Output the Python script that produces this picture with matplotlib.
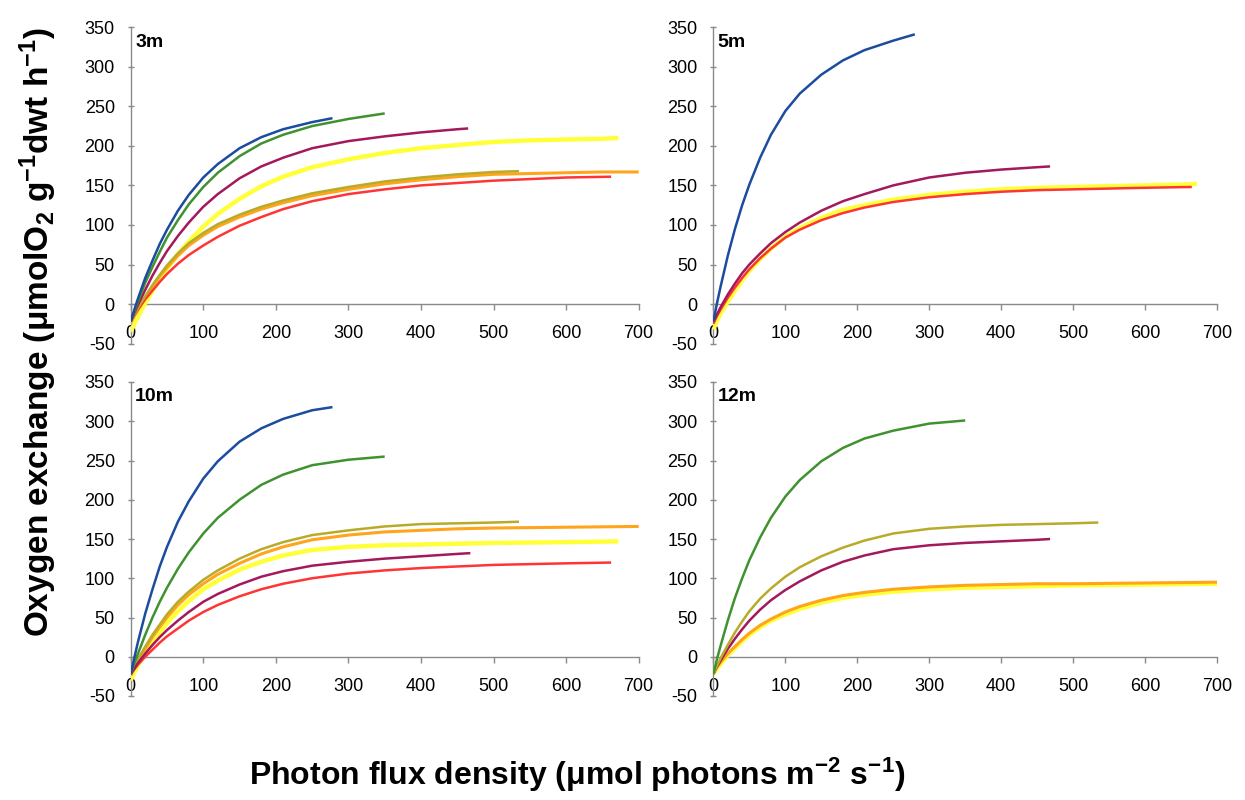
import matplotlib
matplotlib.use("Agg")
import matplotlib.pyplot as plt

plt.rcParams['font.family'] = ['Liberation Sans', 'DejaVu Sans']
plt.rcParams['mathtext.fontset'] = 'custom'
plt.rcParams['mathtext.rm'] = 'Liberation Sans'
plt.rcParams['mathtext.bf'] = 'Liberation Sans:bold'
plt.rcParams['mathtext.it'] = 'Liberation Sans:italic'

# ---------------- data ----------------
# 3 m
x_3m_blue = [0, 5, 10, 20, 30, 40, 50, 65, 80, 100, 120, 150, 180, 210, 250, 278]
y_3m_blue = [-22, -7, 7, 33, 55, 76, 94, 118, 138, 160, 177, 197, 211, 221, 230, 235]
x_3m_green = [0, 5, 10, 20, 30, 40, 50, 65, 80, 100, 120, 150, 180, 210, 250, 300, 350]
y_3m_green = [-22, -9, 3, 27, 47, 66, 84, 106, 126, 148, 166, 187, 203, 214, 225, 234, 241]
x_3m_purple = [0, 5, 10, 20, 30, 40, 50, 65, 80, 100, 120, 150, 180, 210, 250, 300, 350, 400, 450, 465]
y_3m_purple = [-22, -11, -1, 18, 36, 52, 67, 86, 103, 123, 139, 159, 174, 185, 197, 206, 212, 217, 221, 222]
x_3m_yellow = [0, 5, 10, 20, 30, 40, 50, 65, 80, 100, 120, 150, 180, 210, 250, 300, 350, 400, 450, 500, 550, 600, 650, 672]
y_3m_yellow = [-35, -25, -16, 1, 17, 31, 45, 63, 79, 98, 114, 133, 149, 161, 173, 183, 191, 197, 201, 205, 207, 208, 209, 210]
x_3m_olive = [0, 5, 10, 20, 30, 40, 50, 65, 80, 100, 120, 150, 180, 210, 250, 300, 350, 400, 450, 500, 535]
y_3m_olive = [-22, -13, -5, 10, 24, 37, 49, 64, 77, 90, 101, 113, 123, 131, 140, 148, 155, 160, 164, 167, 168]
x_3m_orange = [0, 5, 10, 20, 30, 40, 50, 65, 80, 100, 120, 150, 180, 210, 250, 300, 350, 400, 450, 500, 550, 600, 650, 700]
y_3m_orange = [-24, -15, -7, 8, 22, 35, 46, 61, 74, 87, 98, 110, 120, 128, 137, 145, 152, 157, 161, 164, 165, 166, 167, 167]
x_3m_red = [0, 5, 10, 20, 30, 40, 50, 65, 80, 100, 120, 150, 180, 210, 250, 300, 350, 400, 450, 500, 550, 600, 662]
y_3m_red = [-22, -14, -7, 6, 17, 28, 38, 51, 62, 74, 85, 99, 110, 120, 130, 139, 145, 150, 153, 156, 158, 160, 161]

# 5 m
x_5m_blue = [0, 5, 10, 20, 30, 40, 50, 65, 80, 100, 120, 150, 180, 210, 250, 280]
y_5m_blue = [-22, 1, 22, 61, 95, 125, 151, 185, 214, 244, 266, 290, 308, 321, 333, 341]
x_5m_purple = [0, 5, 10, 20, 30, 40, 50, 65, 80, 100, 120, 150, 180, 210, 250, 300, 350, 400, 450, 468]
y_5m_purple = [-22, -13, -4, 12, 26, 39, 50, 64, 77, 91, 103, 118, 130, 139, 150, 160, 166, 170, 173, 174]
x_5m_yellow = [0, 5, 10, 20, 30, 40, 50, 65, 80, 100, 120, 150, 180, 210, 250, 300, 350, 400, 450, 500, 550, 600, 650, 672]
y_5m_yellow = [-32, -21, -12, 3, 17, 30, 42, 57, 70, 85, 96, 109, 119, 125, 132, 138, 142, 145, 147, 148, 149, 150, 151, 152]
x_5m_red = [0, 5, 10, 20, 30, 40, 50, 65, 80, 100, 120, 150, 180, 210, 250, 300, 350, 400, 450, 500, 550, 600, 665]
y_5m_red = [-25, -15, -7, 8, 21, 33, 44, 58, 70, 84, 94, 106, 115, 122, 129, 135, 139, 142, 144, 145, 146, 147, 148]

# 10 m
x_10m_blue = [0, 5, 10, 20, 30, 40, 50, 65, 80, 100, 120, 150, 180, 210, 250, 278]
y_10m_blue = [-22, -1, 19, 55, 86, 115, 140, 172, 198, 227, 249, 274, 291, 303, 314, 318]
x_10m_green = [0, 5, 10, 20, 30, 40, 50, 65, 80, 100, 120, 150, 180, 210, 250, 300, 350]
y_10m_green = [-22, -8, 4, 28, 50, 70, 88, 112, 133, 157, 177, 200, 219, 232, 244, 251, 255]
x_10m_olive = [0, 5, 10, 20, 30, 40, 50, 65, 80, 100, 120, 150, 180, 210, 250, 300, 350, 400, 450, 500, 535]
y_10m_olive = [-22, -12, -3, 13, 28, 41, 54, 70, 83, 98, 110, 125, 137, 146, 155, 161, 166, 169, 170, 171, 172]
x_10m_orange = [0, 5, 10, 20, 30, 40, 50, 65, 80, 100, 120, 150, 180, 210, 250, 300, 350, 400, 450, 500, 600, 700]
y_10m_orange = [-24, -14, -5, 10, 25, 38, 50, 66, 79, 93, 105, 119, 131, 140, 149, 155, 159, 161, 163, 164, 165, 166]
x_10m_yellow = [0, 5, 10, 20, 30, 40, 50, 65, 80, 100, 120, 150, 180, 210, 250, 300, 350, 400, 500, 600, 672]
y_10m_yellow = [-30, -20, -11, 4, 18, 31, 43, 58, 71, 86, 97, 111, 121, 129, 136, 140, 142, 143, 145, 146, 147]
x_10m_purple = [0, 5, 10, 20, 30, 40, 50, 65, 80, 100, 120, 150, 180, 210, 250, 300, 350, 400, 450, 468]
y_10m_purple = [-22, -15, -8, 4, 15, 25, 34, 46, 57, 70, 80, 92, 102, 109, 116, 121, 125, 128, 131, 132]
x_10m_red = [0, 5, 10, 20, 30, 40, 50, 65, 80, 100, 120, 150, 180, 210, 250, 300, 350, 400, 450, 500, 550, 600, 662]
y_10m_red = [-22, -16, -10, 0, 9, 18, 26, 36, 46, 57, 66, 77, 86, 93, 100, 106, 110, 113, 115, 117, 118, 119, 120]

# 12 m
x_12m_green = [0, 5, 10, 20, 30, 40, 50, 65, 80, 100, 120, 150, 180, 210, 250, 300, 350]
y_12m_green = [-22, -3, 14, 46, 75, 100, 123, 152, 177, 204, 225, 249, 266, 278, 288, 297, 301]
x_12m_olive = [0, 5, 10, 20, 30, 40, 50, 65, 80, 100, 120, 150, 180, 210, 250, 300, 350, 400, 450, 500, 535]
y_12m_olive = [-22, -12, -2, 15, 31, 45, 58, 74, 87, 102, 114, 128, 139, 148, 157, 163, 166, 168, 169, 170, 171]
x_12m_purple = [0, 5, 10, 20, 30, 40, 50, 65, 80, 100, 120, 150, 180, 210, 250, 300, 350, 400, 450, 468]
y_12m_purple = [-22, -13, -5, 10, 23, 35, 46, 60, 72, 85, 96, 110, 121, 129, 137, 142, 145, 147, 149, 150]
x_12m_yellow = [0, 5, 10, 20, 30, 40, 50, 65, 80, 100, 120, 150, 180, 210, 250, 300, 350, 400, 450, 500, 600, 700]
y_12m_yellow = [-22, -15, -9, 2, 11, 20, 28, 38, 46, 54, 61, 69, 75, 79, 83, 86, 88, 89, 90, 91, 92, 93]
x_12m_orange = [0, 5, 10, 20, 30, 40, 50, 65, 80, 100, 120, 150, 180, 210, 250, 300, 350, 400, 450, 500, 600, 700]
y_12m_orange = [-20, -13, -7, 4, 13, 22, 30, 40, 48, 57, 64, 72, 78, 82, 86, 89, 91, 92, 93, 93, 94, 95]

panel_names = ['3m', '5m', '10m', '12m']
x_ticks = [0, 100, 200, 300, 400, 500, 600, 700]
y_ticks = [-50, 0, 50, 100, 150, 200, 250, 300, 350]

colors = {
    'yellow': '#ffff3a',
    'orange': '#ffa51c',
    'red': '#ff3535',
    'olive': '#b8ab2a',
    'purple': '#a3195b',
    'green': '#3f922f',
    'blue': '#1c4c9e',
}
widths = {'yellow': 3.2, 'orange': 2.2, 'red': 1.8, 'olive': 1.8,
          'purple': 1.8, 'green': 1.8, 'blue': 1.8}

panels = [
    [('yellow', x_3m_yellow, y_3m_yellow), ('orange', x_3m_orange, y_3m_orange),
     ('red', x_3m_red, y_3m_red), ('olive', x_3m_olive, y_3m_olive),
     ('purple', x_3m_purple, y_3m_purple), ('green', x_3m_green, y_3m_green),
     ('blue', x_3m_blue, y_3m_blue)],
    [('yellow', x_5m_yellow, y_5m_yellow), ('red', x_5m_red, y_5m_red),
     ('purple', x_5m_purple, y_5m_purple), ('blue', x_5m_blue, y_5m_blue)],
    [('yellow', x_10m_yellow, y_10m_yellow), ('orange', x_10m_orange, y_10m_orange),
     ('red', x_10m_red, y_10m_red), ('olive', x_10m_olive, y_10m_olive),
     ('purple', x_10m_purple, y_10m_purple), ('green', x_10m_green, y_10m_green),
     ('blue', x_10m_blue, y_10m_blue)],
    [('yellow', x_12m_yellow, y_12m_yellow), ('orange', x_12m_orange, y_12m_orange),
     ('purple', x_12m_purple, y_12m_purple), ('olive', x_12m_olive, y_12m_olive),
     ('green', x_12m_green, y_12m_green)],
]

fig = plt.figure(figsize=(12.45, 8.0), dpi=100)
rects = [
    [0.105, 0.5705, 0.408, 0.3955],
    [0.573, 0.5705, 0.4045, 0.3955],
    [0.105, 0.130, 0.408, 0.3925],
    [0.573, 0.130, 0.4045, 0.3925],
]

for rect, name, series in zip(rects, panel_names, panels):
    ax = fig.add_axes(rect)
    for cname, xs, ys in series:
        ax.plot(xs, ys, color=colors[cname], lw=widths[cname],
                solid_capstyle='butt', solid_joinstyle='round', zorder=3)
    ax.set_xlim(0, 700)
    ax.set_ylim(-50, 350)
    ax.spines['top'].set_visible(False)
    ax.spines['right'].set_visible(False)
    ax.spines['bottom'].set_position(('data', 0))
    for s in ('left', 'bottom'):
        ax.spines[s].set_color('#8a8a8a')
        ax.spines[s].set_linewidth(1.0)
    ax.set_xticks(x_ticks)
    ax.set_xticklabels([str(v) for v in x_ticks])
    ax.set_yticks(y_ticks)
    ax.set_yticklabels([str(v) for v in y_ticks])
    ax.tick_params(axis='x', direction='out', length=4, width=1,
                   color='#8a8a8a', labelsize=13, pad=11)
    ax.tick_params(axis='y', direction='inout', length=5, width=1,
                   color='#8a8a8a', labelsize=13, pad=9)
    ax.patch.set_alpha(0)
    ax.text(6, 331, name, fontsize=14, fontweight='bold', va='center',
            ha='left')

fig.text(0.031, 0.585,
         r'Oxygen exchange ($\mathbf{\mu}$molO$_\mathbf{2}$ g$^\mathbf{-1}$dwt h$^\mathbf{-1}$)',
         rotation=90, ha='center', va='center', fontsize=24, fontweight='bold')
fig.text(0.464, 0.032,
         r'Photon flux density ($\mathbf{\mu}$mol photons m$^\mathbf{-2}$ s$^\mathbf{-1}$)',
         ha='center', va='center', fontsize=23, fontweight='bold')

fig.savefig('out.png', dpi=100)
